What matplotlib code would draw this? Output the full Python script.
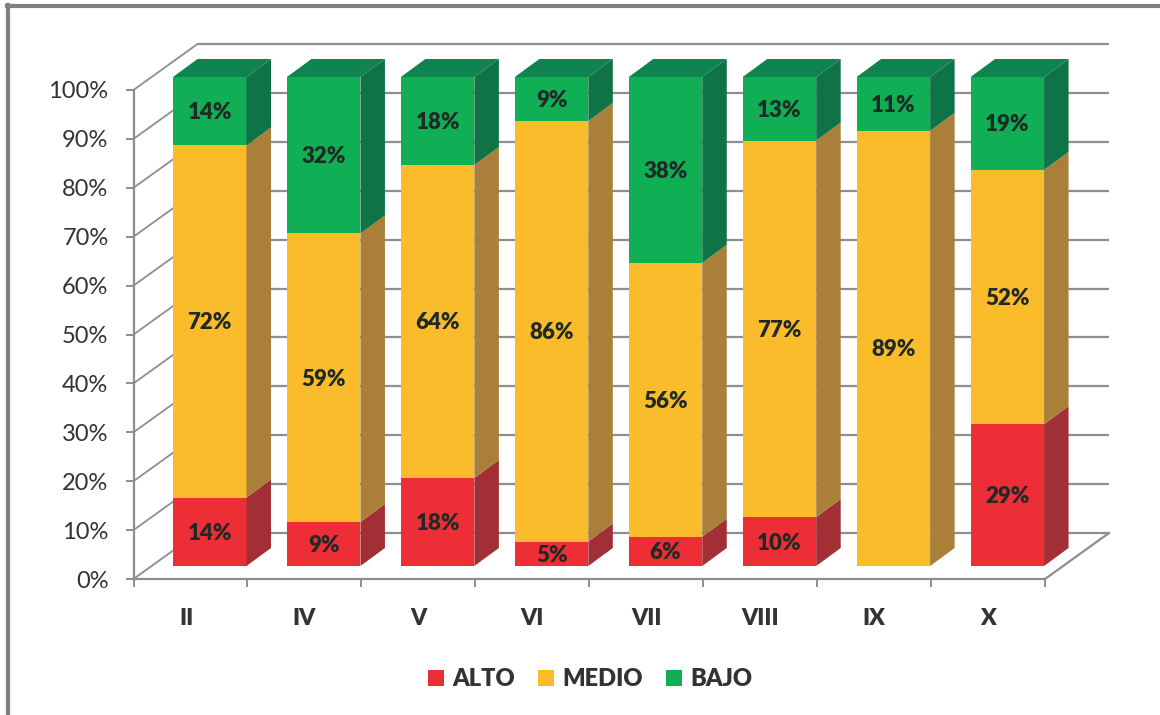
import matplotlib
matplotlib.use("Agg")
import matplotlib.pyplot as plt
from matplotlib.patches import Patch

plt.rcParams['font.family'] = ['Lato', 'DejaVu Sans']

grades = ["II", "IV", "V", "VI", "VII", "VIII", "IX", "X"]
alto = [14, 9, 18, 5, 6, 10, 0, 29]
medio = [72, 59, 64, 86, 56, 77, 89, 52]
bajo = [14, 32, 18, 9, 38, 13, 11, 19]
y_ticks = [0, 10, 20, 30, 40, 50, 60, 70, 80, 90, 100]

W, H = 1160, 715
# axes box in pixels
left, right, y0, y100 = 133.5, 1045, 579, 90
ppx = (right - left) / len(grades)   # pixels per category
ppy = (y0 - y100) / 100              # pixels per percent

# depth of the fake 3d, in data units
wall_dx, wall_dy = 64 / ppx, 46 / ppy
lift = 13 / ppy
bar_w = 73.5 / ppx
bar_off = 39.5 / ppx
side_dx, side_dy = 24.5 / ppx, 18 / ppy

GRID = "#8e8e8e"
TEXT = "#333333"
series = [
    ("ALTO", alto, "#ee2e36", "#a32f36"),
    ("MEDIO", medio, "#fbbc2c", "#a97f3a"),
    ("BAJO", bajo, "#10ae55", "#0e7447"),
]
TOP_GREEN = "#0f8350"

fig = plt.figure(figsize=(W / 100, H / 100), dpi=100)
ax = fig.add_axes([left / W, 1 - y0 / H, (right - left) / W, (y0 - y100) / H])
ax.set_xlim(0, len(grades))
ax.set_ylim(0, 100)
ax.patch.set_alpha(0)

# walls
for t in y_ticks:
    ax.plot([wall_dx, len(grades) + wall_dx], [t + wall_dy, t + wall_dy], color=GRID, lw=1.6,
            clip_on=False, zorder=1, solid_capstyle='butt')
    ax.plot([0, wall_dx], [t, t + wall_dy], color=GRID, lw=1.3, clip_on=False, zorder=1)
ax.plot([len(grades), len(grades) + wall_dx], [0, wall_dy], color=GRID, lw=1.6, clip_on=False, zorder=1)

# bars
bottom = [0] * len(grades)
for name, vals, front, side in series:
    for i, v in enumerate(vals):
        if v == 0:
            continue
        b = bottom[i] + lift
        x0 = i + bar_off
        x1 = x0 + bar_w
        ax.bar(x0, v, bar_w, bottom=b, align='edge', color=front, clip_on=False, zorder=3)
        ax.fill([x1, x1 + side_dx, x1 + side_dx, x1],
                [b, b + side_dy, b + v + side_dy, b + v],
                color=side, lw=0, clip_on=False, zorder=3)
        ax.text(x0 + bar_w / 2, b + v / 2 - 0.3, f"{v}%", ha='center', va='center', fontsize=16,
                fontweight='heavy', color="#1f2a26", zorder=5)
    bottom = [a + b for a, b in zip(bottom, vals)]

# top faces of the stacks
for i, total in enumerate(bottom):
    x0 = i + bar_off
    t = total + lift
    ax.fill([x0, x0 + bar_w, x0 + bar_w + side_dx, x0 + side_dx],
            [t, t, t + side_dy, t + side_dy], color=TOP_GREEN, lw=0, clip_on=False, zorder=3)

# axes
for s in ["top", "right"]:
    ax.spines[s].set_visible(False)
for s in ["left", "bottom"]:
    ax.spines[s].set_color(GRID)
    ax.spines[s].set_linewidth(1.6)
ax.set_yticks(y_ticks)
ax.set_yticklabels([f"{t}%" for t in y_ticks])
ax.tick_params(axis='y', length=6, width=1.4, color=GRID, pad=12, labelsize=17, labelcolor=TEXT)
ax.set_xticks(range(len(grades) + 1))
ax.set_xticklabels([])
label_pos = [i + 0.5 for i in range(len(grades))]
label_pos[0] -= 0.035
ax.set_xticks(label_pos, grades, minor=True)
ax.tick_params(axis='x', which='major', length=6, width=1.4, color=GRID)
ax.tick_params(axis='x', which='minor', length=0, pad=21, labelsize=16.5, labelcolor=TEXT)
for lab in ax.get_xticklabels(minor=True):
    lab.set_fontweight('heavy')

# legend
handles = [Patch(facecolor=s[2], label=s[0]) for s in series]
fig.legend(handles=handles, ncol=3, frameon=False, loc='center', bbox_to_anchor=(590 / W, 1 - 679 / H),
           prop={'weight': 'heavy', 'size': 17}, labelcolor=TEXT, handlelength=0.66, handleheight=0.66,
           handletextpad=0.35, columnspacing=1.0)

# picture frame, top and left only
fig.add_artist(plt.Line2D([8 / W, 8 / W], [0, 1 - 5 / H], color="#808080", lw=3))
fig.add_artist(plt.Line2D([6.5 / W, 1], [1 - 6 / H, 1 - 6 / H], color="#808080", lw=3))

fig.savefig("out.png", dpi=100)
